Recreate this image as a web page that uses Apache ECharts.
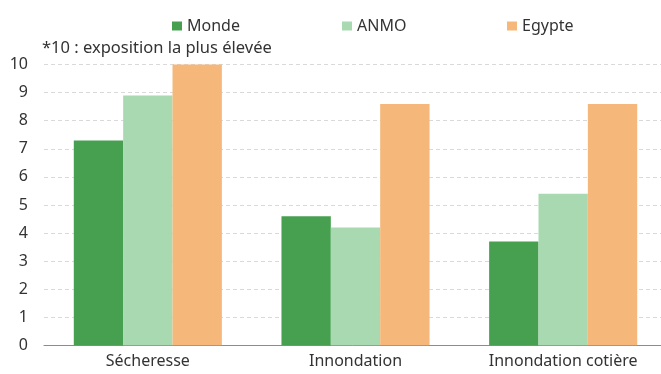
<!DOCTYPE html>
<html><head><meta charset="utf-8">
<script src="https://cdn.jsdelivr.net/npm/echarts@6/dist/echarts.min.js"></script>
<style>html,body{margin:0;padding:0;background:#fff}#c{width:661px;height:374px}</style>
</head><body><div id="c"></div>
<script>
const categories = ['Sécheresse', 'Innondation', 'Innondation cotière'];
const seriesNames = ['Monde', 'ANMO', 'Egypte'];
const monde = [7.3, 4.6, 3.7];
const anmo = [8.9, 4.2, 5.4];
const egypte = [10, 8.6, 8.6];
const yTicks = [0, 1, 2, 3, 4, 5, 6, 7, 8, 9, 10];
const note = '*10 : exposition la plus élevée';

const colors = ['#46A050', '#A9D9B0', '#F5B87A'];
const FONT = 'Noto Sans';
const chart = echarts.init(document.getElementById('c'));
const legendLeft = [167, 337, 502];
const values = [monde, anmo, egypte];
chart.setOption({
  animation: false,
  textStyle: { fontFamily: FONT },
  legend: seriesNames.map((n, i) => ({
    data: [n], left: legendLeft[i], top: 13, itemWidth: 10, itemHeight: 9,
    icon: 'rect', textStyle: { fontSize: 16, color: '#333', fontFamily: FONT }
  })),
  graphic: [{
    type: 'text', left: 42, top: 40,
    style: { text: note, fontSize: 16.5, fill: '#333', fontFamily: FONT }
  }],
  grid: { left: 44, width: 623, top: 64.6, height: 280.7, containLabel: false, outerBoundsMode: 'none' },
  xAxis: {
    type: 'category', data: categories,
    axisLine: { lineStyle: { color: '#8c8c8c', width: 1 } },
    axisTick: { show: false },
    axisLabel: { fontSize: 16, color: '#333', margin: 8 }
  },
  yAxis: {
    type: 'value', min: yTicks[0], max: yTicks[yTicks.length - 1], interval: 1,
    axisLine: { show: false }, axisTick: { show: false },
    axisLabel: { fontSize: 16, color: '#333', margin: 16 },
    splitLine: { lineStyle: { color: '#d9d9d9', type: [4, 3] } }
  },
  series: seriesNames.map((n, i) => ({
    name: n, type: 'bar', data: values[i], barGap: '0%', barCategoryGap: '28.7%',
    itemStyle: { color: colors[i] }
  }))
});
</script></body></html>
